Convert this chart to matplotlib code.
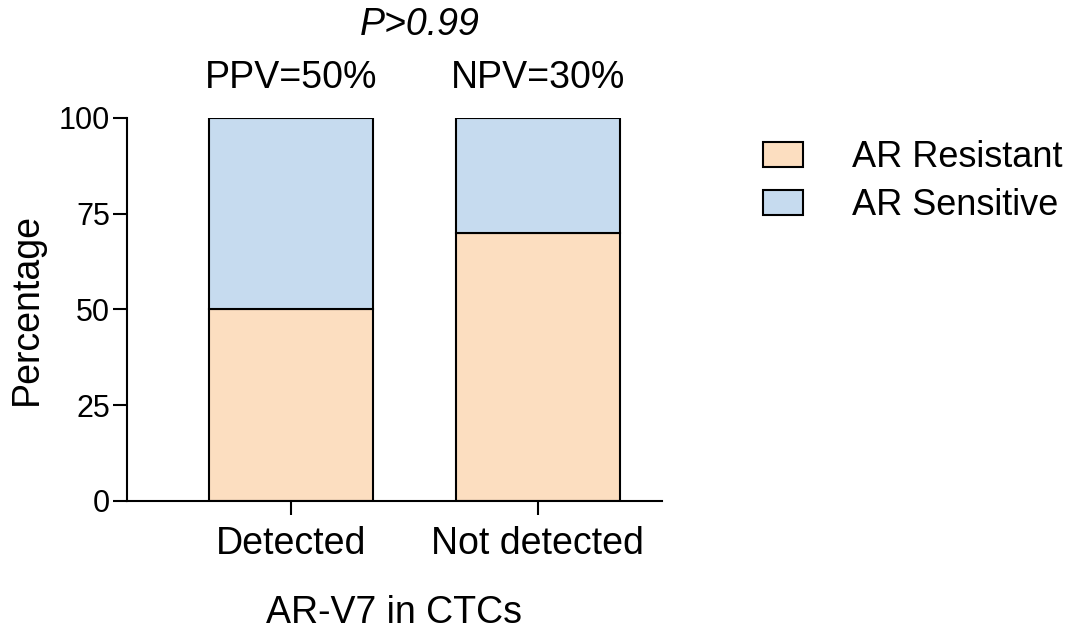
import numpy as np
import matplotlib
matplotlib.use("Agg")
from matplotlib import pyplot as plt
from matplotlib.patches import Patch

plt.rcParams['font.family'] = ['Liberation Sans', 'DejaVu Sans']

categories = ["Detected", "Not detected"]
resistant = [50, 70]
sensitive = [50, 30]
top_labels = ["PPV=50%", "NPV=30%"]
p_text = "P>0.99"

col_res = "#FCDEC0"
col_sen = "#C6DBEF"

fig = plt.figure(figsize=(10.76, 6.34), dpi=100)
ax = fig.add_axes([0.118, 0.210, 0.497, 0.604])

x = np.arange(len(categories))
w = 0.664
ax.bar(x, resistant, w, color=col_res, edgecolor="black", linewidth=1.5, label="AR Resistant")
ax.bar(x, sensitive, w, bottom=resistant, color=col_sen, edgecolor="black", linewidth=1.5, label="AR Sensitive")

ax.set_xlim(-0.664, 1.502)
ax.set_ylim(0, 100)
ax.set_yticks([0, 25, 50, 75, 100])
ax.set_xticks(x)
ax.set_xticklabels(categories)
ax.tick_params(axis="both", width=1.5, length=10, direction="out")
ax.tick_params(axis="y", labelsize=22, pad=2)
ax.tick_params(axis="x", labelsize=27, pad=8)
ax.spines["top"].set_visible(False)
ax.spines["right"].set_visible(False)
ax.spines["left"].set_linewidth(1.5)
ax.spines["bottom"].set_linewidth(1.5)

ax.set_ylabel("Percentage", fontsize=27, labelpad=10)
ax.set_xlabel("AR-V7 in CTCs", fontsize=27, labelpad=24)

for xi, t in zip(x, top_labels):
    ax.text(xi, 110.4, t, ha="center", va="center", fontsize=27)
ax.text(0.52, 124.3, p_text, ha="center", va="center", fontsize=27, style="italic")

handles = [Patch(facecolor=col_res, edgecolor="black", linewidth=1.5),
           Patch(facecolor=col_sen, edgecolor="black", linewidth=1.5)]
fig.legend(handles, ["AR Resistant", "AR Sensitive"], loc="upper left",
           bbox_to_anchor=(0.679, 0.830), frameon=False, fontsize=26,
           handlelength=1.11, handleheight=0.67, handletextpad=1.36, labelspacing=0.36)

fig.savefig("out.png", dpi=100)
